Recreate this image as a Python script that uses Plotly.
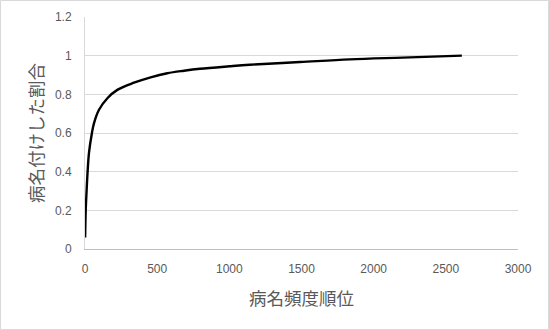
import plotly.graph_objects as go

rank = [1, 5, 11, 18, 28, 48, 62, 97, 155, 224, 339, 455, 570, 686, 796, 1000, 1142, 1489, 1835, 2200, 2611]
ratio = [0.06, 0.2, 0.3, 0.4, 0.5, 0.6, 0.65, 0.72, 0.78, 0.823, 0.86, 0.888, 0.909, 0.922, 0.932, 0.945, 0.953, 0.967, 0.981, 0.99, 1.0]

x_title = "病名頻度順位"
y_title = "病名付けした割合"

W, H = 549, 330
ML, MR, MT, MB = 85, 31, 17, 81
PW, PH = W - ML - MR, H - MT - MB

fig = go.Figure()
fig.add_trace(go.Scatter(x=rank, y=ratio, mode="lines",
                         line=dict(color="black", width=2.4, shape="spline", smoothing=1.0),
                         hoverinfo="x+y", showlegend=False))

tickfont = dict(family="Liberation Sans, Arial, sans-serif", size=12, color="#595959")
cjk = "Noto Sans CJK JP, sans-serif"

fig.update_layout(
    width=W, height=H,
    margin=dict(l=ML, r=MR, t=MT, b=MB, autoexpand=False),
    paper_bgcolor="white", plot_bgcolor="white",
    xaxis=dict(range=[0, 3000], tickvals=[0, 500, 1000, 1500, 2000, 2500, 3000],
               showgrid=False, zeroline=False, showline=True, linecolor="#bfbfbf", linewidth=1,
               ticks="", tickfont=tickfont, ticklabelstandoff=9, fixedrange=True),
    yaxis=dict(range=[0, 1.2], tickvals=[0, 0.2, 0.4, 0.6, 0.8, 1, 1.2],
               ticktext=["0", "0.2", "0.4", "0.6", "0.8", "1", "1.2"],
               showgrid=True, gridcolor="#d9d9d9", gridwidth=1, zeroline=False,
               showline=True, linecolor="#d9d9d9", linewidth=1,
               ticks="", tickfont=tickfont, ticklabelstandoff=10, fixedrange=True),
    annotations=[
        dict(text=x_title, xref="paper", yref="paper", x=0.5, y=(PH - (297 - MT)) / PH,
             showarrow=False, xanchor="center", yanchor="middle",
             font=dict(family=cjk, size=17.5, color="#595959")),
        dict(text=y_title, xref="paper", yref="paper", x=(35 - ML) / PW, y=(PH - (133 - MT)) / PH,
             showarrow=False, xanchor="center", yanchor="middle", textangle=-90,
             font=dict(family=cjk, size=17.5, color="#595959")),
    ],
    shapes=[dict(type="rect", xref="paper", yref="paper",
                 x0=(0.5 - ML) / PW, x1=(W - 0.5 - ML) / PW,
                 y0=(PH - (H - 0.5 - MT)) / PH, y1=(PH - (0.5 - MT)) / PH,
                 line=dict(color="#d9d9d9", width=1), layer="below")],
)

fig.write_html("out.html")
